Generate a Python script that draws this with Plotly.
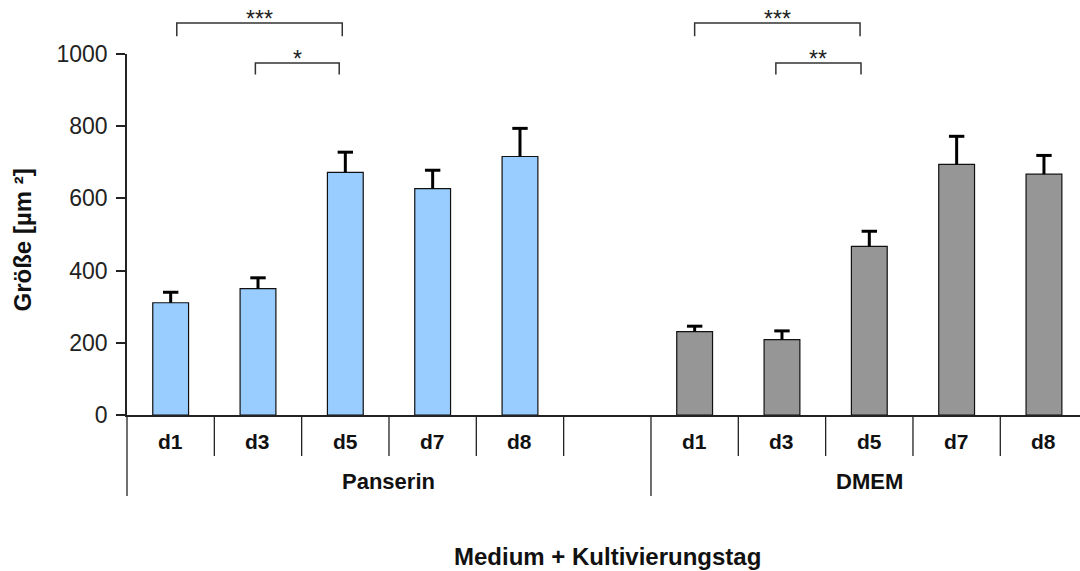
import plotly.graph_objects as go

# ---- data ----
groups = ["Panserin", "DMEM"]
days = ["d1", "d3", "d5", "d7", "d8"]
panserin_mean = [311, 350, 672, 627, 716]
panserin_err = [29, 30, 56, 51, 78]
dmem_mean = [231, 209, 467, 694, 667]
dmem_err = [15, 24, 42, 78, 52]
y_ticks = [0, 200, 400, 600, 800, 1000]

# significance brackets: (group, day_a, day_b, level, label)
sig = [
    ("Panserin", "d1", "d5", 0, "***"),
    ("Panserin", "d3", "d5", 1, "*"),
    ("DMEM", "d1", "d5", 0, "***"),
    ("DMEM", "d3", "d5", 1, "**"),
]

# ---- slot layout: Panserin 5 days + 1 empty slot, then DMEM 5 days ----
slots_per_group = [len(days) + 1, len(days)]
group_start = [0, slots_per_group[0]]
px_idx = [group_start[0] + i for i in range(len(days))]
dm_idx = [group_start[1] + i for i in range(len(days))]
n_slots = sum(slots_per_group)

W, H = 1080, 571
ML, MR, MT, MB = 127, 0, 54, 156
plot_w = W - ML - MR
plot_h = H - MT - MB
slot_px = 87.33
xr = [-0.5, -0.5 + plot_w / slot_px]


def dx(v):
    return (v - xr[0]) / (xr[1] - xr[0])


def py(pix_below_axis):
    return -pix_below_axis / plot_h


FONT = "Liberation Sans, Arial, sans-serif"

fig = go.Figure()
series = [
    (px_idx, panserin_mean, panserin_err, "#99CCFF"),
    (dm_idx, dmem_mean, dmem_err, "#969696"),
]
for xs, ms, es, col in series:
    fig.add_trace(go.Bar(
        x=xs, y=ms, width=0.41,
        marker=dict(color=col, line=dict(color="#111111", width=1.2)),
        showlegend=False, hoverinfo="y",
    ))
# upper error bars (stem + cap)
for xs, ms, es, col in series:
    lx, ly = [], []
    for x, m, e in zip(xs, ms, es):
        lx += [x, x, None]
        ly += [m, m + e, None]
    fig.add_trace(go.Scatter(x=lx, y=ly, mode="lines",
                             line=dict(color="#000000", width=3),
                             showlegend=False, hoverinfo="skip"))
    fig.add_trace(go.Scatter(x=xs, y=[m + e for m, e in zip(ms, es)], mode="markers",
                             marker=dict(symbol="line-ew", size=11,
                                         line=dict(color="#000000", width=3)),
                             showlegend=False, hoverinfo="skip"))

shapes = []
annotations = []

# category separators below the axis
group_bounds = [g - 0.5 for g in group_start]
for b in range(n_slots):
    xb = b - 0.5
    long_ = xb in group_bounds
    shapes.append(dict(type="line", xref="paper", yref="paper",
                       x0=dx(xb), x1=dx(xb), y0=0, y1=py(81 if long_ else 41),
                       line=dict(color="#222222", width=1.3)))

# day labels
for idx_list in (px_idx, dm_idx):
    for d, i in zip(days, idx_list):
        annotations.append(dict(xref="paper", yref="paper", x=dx(i), y=py(26),
                                text="<b>%s</b>" % d, showarrow=False,
                                xanchor="center", yanchor="middle",
                                font=dict(family=FONT, size=21, color="#111111")))

# group labels
for gi, g in enumerate(groups):
    start = group_start[gi] - 0.5
    end = start + (slots_per_group[gi] if gi == 0 else len(days))
    annotations.append(dict(xref="paper", yref="paper", x=dx((start + end) / 2), y=py(66),
                            text="<b>%s</b>" % g, showarrow=False,
                            xanchor="center", yanchor="middle",
                            font=dict(family=FONT, size=22, color="#111111")))

# x title
annotations.append(dict(xref="paper", yref="paper", x=dx((n_slots - 1) / 2), y=py(141),
                        text="<b>Medium + Kultivierungstag</b>", showarrow=False,
                        xanchor="center", yanchor="middle",
                        font=dict(family=FONT, size=24, color="#111111")))

# y title
annotations.append(dict(xref="paper", yref="paper", x=-(ML - 22) / plot_w, y=0.4835,
                        text="<b>Größe [µm ²]</b>", showarrow=False, textangle=-90,
                        xanchor="center", yanchor="middle",
                        font=dict(family=FONT, size=24, color="#111111")))

# significance brackets
level_y = [(1.086, 1.049, 1.097), (0.975, 0.943, 0.985)]
offsets = {
    ("Panserin", 0): (0.07, -0.035), ("Panserin", 1): (-0.03, -0.07),
    ("DMEM", 0): (0.0, -0.106), ("DMEM", 1): (-0.07, -0.095),
}
for g, da, db, lvl, lab in sig:
    gi = groups.index(g)
    xa = group_start[gi] + days.index(da) + offsets[(g, lvl)][0]
    xb = group_start[gi] + days.index(db) + offsets[(g, lvl)][1]
    ytop, ytip, ylab = level_y[lvl]
    shapes.append(dict(type="path", xref="paper", yref="paper",
                       path="M %f %f L %f %f L %f %f L %f %f" % (
                           dx(xa), ytip, dx(xa), ytop, dx(xb), ytop, dx(xb), ytip),
                       line=dict(color="#333333", width=1.5)))
    annotations.append(dict(xref="paper", yref="paper", x=dx((xa + xb) / 2), y=ylab,
                            text=lab, showarrow=False, xanchor="center", yanchor="middle",
                            font=dict(family=FONT, size=23, color="#222222")))

fig.update_layout(
    width=W, height=H,
    margin=dict(l=ML, r=MR, t=MT, b=MB, pad=0),
    paper_bgcolor="white", plot_bgcolor="white",
    shapes=shapes, annotations=annotations,
    xaxis=dict(range=xr, showline=True, linecolor="#222222", linewidth=1.5,
               showticklabels=False, ticks="", showgrid=False, zeroline=False,
               fixedrange=True),
    yaxis=dict(range=[0, 1000], tickvals=y_ticks, showline=True, linecolor="#222222",
               linewidth=1.5, ticks="outside", ticklen=9, tickwidth=1.5,
               tickcolor="#222222", showgrid=False, zeroline=False,
               tickfont=dict(family=FONT, size=23, color="#222222"),
               ticklabelstandoff=4),
)

fig.write_html("out.html", config={"displayModeBar": False},
               post_script="document.body.style.margin='0';document.body.style.overflow='hidden';")
